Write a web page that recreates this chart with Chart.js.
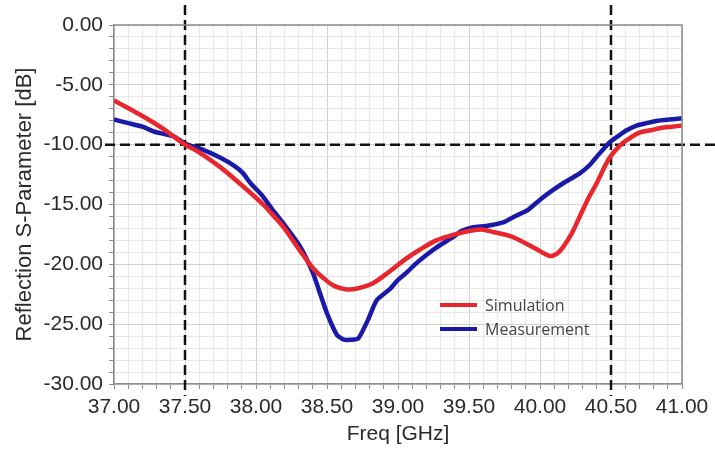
<!DOCTYPE html>
<html>
<head>
<meta charset="utf-8">
<script src="https://cdn.jsdelivr.net/npm/chart.js@4/dist/chart.umd.min.js"></script>
<style>
  html, body { margin: 0; padding: 0; background: #fff; }
</style>
</head>
<body>
<canvas id="sparam" width="715" height="455"></canvas>
<script>
// frequency (GHz) and reflection (dB)
const simFreq = [37.00, 37.20, 37.35, 37.50, 37.58, 37.75, 37.91, 38.05, 38.12, 38.20, 38.27, 38.33, 38.40, 38.47, 38.55, 38.64, 38.72, 38.82, 38.94, 39.06, 39.15, 39.27, 39.40, 39.51, 39.60, 39.67, 39.78, 39.86, 39.97, 40.07, 40.12, 40.16, 40.22, 40.28, 40.34, 40.40, 40.49, 40.58, 40.64, 40.70, 40.78, 40.85, 40.93, 41.00];
const simulation = [-6.3, -7.6, -8.7, -10.0, -10.5, -11.9, -13.5, -15.0, -15.9, -17.0, -18.2, -19.2, -20.3, -21.1, -21.8, -22.1, -22.0, -21.6, -20.6, -19.5, -18.8, -18.0, -17.5, -17.2, -17.1, -17.3, -17.6, -18.0, -18.7, -19.3, -19.1, -18.6, -17.5, -16.0, -14.5, -13.2, -11.1, -9.9, -9.4, -9.0, -8.8, -8.6, -8.5, -8.4];

const measFreq = [37.00, 37.10, 37.20, 37.28, 37.35, 37.42, 37.50, 37.62, 37.75, 37.85, 37.91, 37.96, 38.04, 38.12, 38.20, 38.31, 38.40, 38.45, 38.50, 38.57, 38.62, 38.66, 38.72, 38.79, 38.85, 38.94, 39.00, 39.06, 39.12, 39.18, 39.27, 39.39, 39.45, 39.53, 39.62, 39.74, 39.82, 39.91, 40.00, 40.09, 40.18, 40.28, 40.35, 40.40, 40.49, 40.56, 40.61, 40.68, 40.75, 40.83, 40.91, 41.00];
const measurement = [-7.9, -8.2, -8.5, -8.9, -9.1, -9.3, -9.9, -10.4, -11.1, -11.8, -12.4, -13.2, -14.2, -15.5, -16.7, -18.5, -20.7, -22.4, -24.1, -25.9, -26.3, -26.3, -26.2, -24.6, -23.0, -22.1, -21.3, -20.7, -20.0, -19.4, -18.6, -17.7, -17.2, -16.9, -16.8, -16.5, -16.0, -15.5, -14.6, -13.8, -13.1, -12.4, -11.7, -11.0, -9.8, -9.2, -8.8, -8.4, -8.2, -8.0, -7.9, -7.8];

const markerFreqs = [37.5, 40.5];
const markerLevel = -10;

const RED = "#e8262b";
const BLUE = "#1a1aa8";
const MAJOR_GRID = "#d2d2d2";
const MINOR_GRID = "#e8e8e8";
const AXIS_GRAY = "#8c8c8c";

const toPoints = (xs, ys) => xs.map((x, i) => ({ x: x, y: ys[i] }));

// dashed -10 dB / band edge markers, drawn past the plot area like the original
const markerLines = {
  id: "markerLines",
  beforeDatasetsDraw(chart) {
    const { ctx, chartArea, scales } = chart;
    ctx.save();
    ctx.strokeStyle = "#111";
    ctx.lineWidth = 2.5;
    ctx.setLineDash([10, 5]);
    markerFreqs.forEach((f) => {
      const px = scales.x.getPixelForValue(f);
      ctx.beginPath();
      ctx.moveTo(px, chartArea.top - 20);
      ctx.lineTo(px, chartArea.bottom + 12);
      ctx.stroke();
    });
    const py = scales.y.getPixelForValue(markerLevel);
    ctx.beginPath();
    ctx.moveTo(chartArea.left - 9, py);
    ctx.lineTo(chart.width, py);
    ctx.stroke();
    ctx.restore();
  },
  afterDraw(chart) {
    // top and right frame of the plot
    const { ctx, chartArea } = chart;
    ctx.save();
    ctx.strokeStyle = AXIS_GRAY;
    ctx.lineWidth = 1.5;
    ctx.beginPath();
    ctx.moveTo(chartArea.left, chartArea.top);
    ctx.lineTo(chartArea.right, chartArea.top);
    ctx.lineTo(chartArea.right, chartArea.bottom);
    ctx.stroke();
    ctx.restore();
  },
};

// legend sits inside the plot area
const insideLegend = {
  id: "insideLegend",
  afterDatasetsDraw(chart) {
    const { ctx, chartArea } = chart;
    const x0 = chartArea.left + 326;
    const rows = [
      { label: "Simulation", color: RED, y: 305 },
      { label: "Measurement", color: BLUE, y: 329 },
    ];
    ctx.save();
    ctx.font = "16px 'Open Sans'";
    ctx.textBaseline = "middle";
    ctx.fillStyle = "#444";
    rows.forEach((r) => {
      ctx.strokeStyle = r.color;
      ctx.lineWidth = 4;
      ctx.beginPath();
      ctx.moveTo(x0, r.y);
      ctx.lineTo(x0 + 37, r.y);
      ctx.stroke();
      ctx.fillText(r.label, x0 + 45, r.y + 1);
    });
    ctx.restore();
  },
};

const tickFont = { family: "'Liberation Sans', Arial", size: 21 };

new Chart(document.getElementById("sparam"), {
  type: "line",
  data: {
    datasets: [
      {
        label: "Simulation",
        data: toPoints(simFreq, simulation),
        borderColor: RED,
        borderWidth: 4.5,
        pointRadius: 0,
        tension: 0.35,
        order: 1,
      },
      {
        label: "Measurement",
        data: toPoints(measFreq, measurement),
        borderColor: BLUE,
        borderWidth: 4.5,
        pointRadius: 0,
        tension: 0.2,
        order: 2,
      },
    ],
  },
  options: {
    responsive: false,
    animation: false,
    devicePixelRatio: 1,
    layout: { padding: { left: 0, top: 25, right: 33, bottom: 0 } },
    plugins: { legend: { display: false }, tooltip: { enabled: false } },
    scales: {
      x: {
        type: "linear",
        min: 37,
        max: 41,
        afterFit: (scale) => { scale.height = 71; },
        ticks: {
          stepSize: 0.1,
          autoSkip: false,
          maxRotation: 0,
          padding: 6,
          color: "#2a2a2a",
          font: tickFont,
          callback: (v) => (Math.round(v * 10) % 5 === 0 ? v.toFixed(2) : ""),
        },
        grid: {
          color: (c) => (Math.round(c.tick.value * 10) % 5 === 0 ? MAJOR_GRID : MINOR_GRID),
          tickColor: AXIS_GRAY,
          tickLength: 5,
        },
        border: { color: AXIS_GRAY, width: 1.5 },
        title: {
          display: true,
          text: "Freq [GHz]",
          color: "#2a2a2a",
          font: tickFont,
          padding: { top: 0, bottom: 8 },
        },
      },
      y: {
        min: -30,
        max: 0,
        afterFit: (scale) => { scale.width = 114; },
        ticks: {
          stepSize: 1,
          autoSkip: false,
          padding: 6,
          color: "#2a2a2a",
          font: tickFont,
          callback: (v) => (Math.round(v) % 5 === 0 ? v.toFixed(2) : ""),
        },
        grid: {
          color: (c) => (Math.round(c.tick.value) % 5 === 0 ? MAJOR_GRID : MINOR_GRID),
          tickColor: AXIS_GRAY,
          tickLength: 5,
        },
        border: { color: AXIS_GRAY, width: 1.5 },
        title: {
          display: true,
          text: "Reflection S-Parameter [dB]",
          color: "#2a2a2a",
          font: { family: "'Liberation Sans', Arial", size: 22 },
          padding: { top: 12, bottom: 0 },
        },
      },
    },
  },
  plugins: [markerLines, insideLegend],
});
</script>
</body>
</html>
